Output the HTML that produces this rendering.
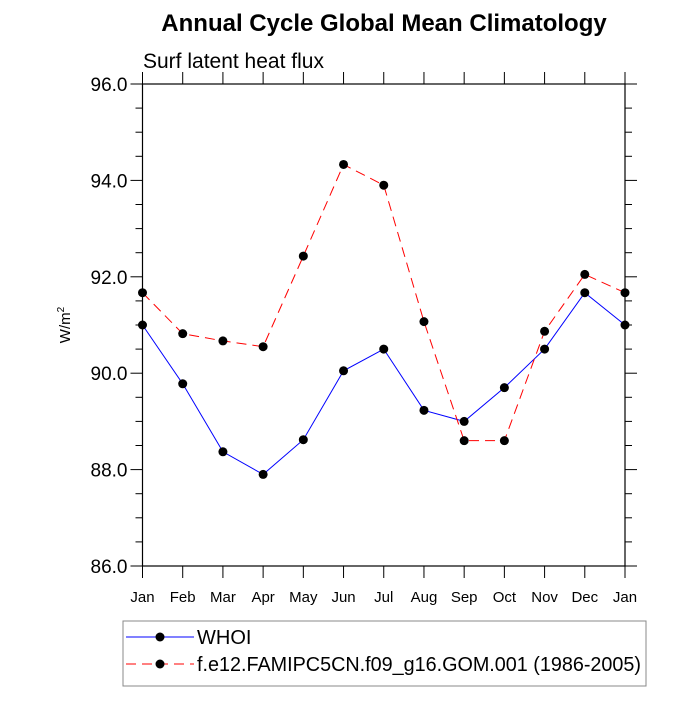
<!DOCTYPE html>
<html><head><meta charset="utf-8"><style>body{margin:0;background:#fff}svg{font-family:"Liberation Sans",sans-serif}</style></head>
<body>
<svg id="c" width="700" height="700">
<text x="384" y="31" text-anchor="middle" font-size="24" font-weight="bold">Annual Cycle Global Mean Climatology</text>
<text x="143" y="68" font-size="21">Surf latent heat flux</text>
<text transform="translate(70,325) rotate(-90)" text-anchor="middle" font-size="15">W/m<tspan dy="-6" font-size="10">2</tspan></text>
<g id="axes"></g><g id="series"></g>
<rect x="123" y="621" width="523" height="65" fill="none" stroke="#888"/>
<g><line x1="126" y1="637" x2="194" y2="637" stroke="blue"/><circle cx="160" cy="637" r="4.5"/><text x="197" y="644" font-size="20">WHOI</text></g>
<g><line x1="126" y1="664" x2="194" y2="664" stroke="red" stroke-dasharray="10,6"/><circle cx="160" cy="664" r="4.5"/><text x="197" y="671" font-size="20" textLength="444" lengthAdjust="spacingAndGlyphs">f.e12.FAMIPC5CN.f09_g16.GOM.001 (1986-2005)</text></g>
</svg>
<script>
const months=["Jan","Feb","Mar","Apr","May","Jun","Jul","Aug","Sep","Oct","Nov","Dec","Jan"];
const whoi=[91.0,89.78,88.37,87.9,88.62,90.05,90.5,89.23,89.0,89.7,90.5,91.67,91.0];
const model=[91.67,90.82,90.67,90.55,92.43,94.33,93.9,91.07,88.6,88.6,90.87,92.05,91.67];
const yTicks=["86.0","88.0","90.0","92.0","94.0","96.0"];
const NS="http://www.w3.org/2000/svg";
const L=142.5,R=625,T=84,B=566,yMin=86,yMax=96;
const xs=i=>L+(R-L)*i/(months.length-1);
const ys=v=>B-(v-yMin)/(yMax-yMin)*(B-T);
function mk(t,a,p){const e=document.createElementNS(NS,t);for(const k in a)e.setAttribute(k,a[k]);p.appendChild(e);return e;}
const ax=document.getElementById('axes');
const fr=mk('rect',{x:L,y:T,width:R-L,height:B-T,fill:'none',stroke:'#000','stroke-width':1.2},ax);


months.forEach((m,i)=>{const x=xs(i);
mk('line',{x1:x,y1:B,x2:x,y2:B+12,stroke:'#000'},ax);
mk('line',{x1:x,y1:T,x2:x,y2:T-12,stroke:'#000'},ax);
const t=mk('text',{x:x,y:B+36,'text-anchor':'middle','font-size':15},ax);t.textContent=m;

});
for(let v=yMin;v<=yMax+1e-9;v+=0.5){const y=ys(v);const maj=Math.abs(v/2-Math.round(v/2))<1e-9;const len=maj?12:7;
mk('line',{x1:L,y1:y,x2:L-len,y2:y,stroke:'#000'},ax);mk('line',{x1:R,y1:y,x2:R+len,y2:y,stroke:'#000'},ax);}
yTicks.forEach(s=>{const t=mk('text',{x:L-15,y:ys(parseFloat(s))+7,'text-anchor':'end','font-size':19},ax);t.textContent=s;

});
const se=document.getElementById('series');
function draw(d,col,dash,name){const g=mk('g',{},se);


mk('polyline',{points:d.map((v,i)=>xs(i)+','+ys(v)).join(' '),fill:'none',stroke:col,'stroke-dasharray':dash},g);
d.forEach((v,i)=>mk('circle',{cx:xs(i),cy:ys(v),r:4.5,fill:'#000'},g));}
draw(whoi,'blue','none','series-whoi');
draw(model,'red','10,6','series-model');
</script>
</body></html>
